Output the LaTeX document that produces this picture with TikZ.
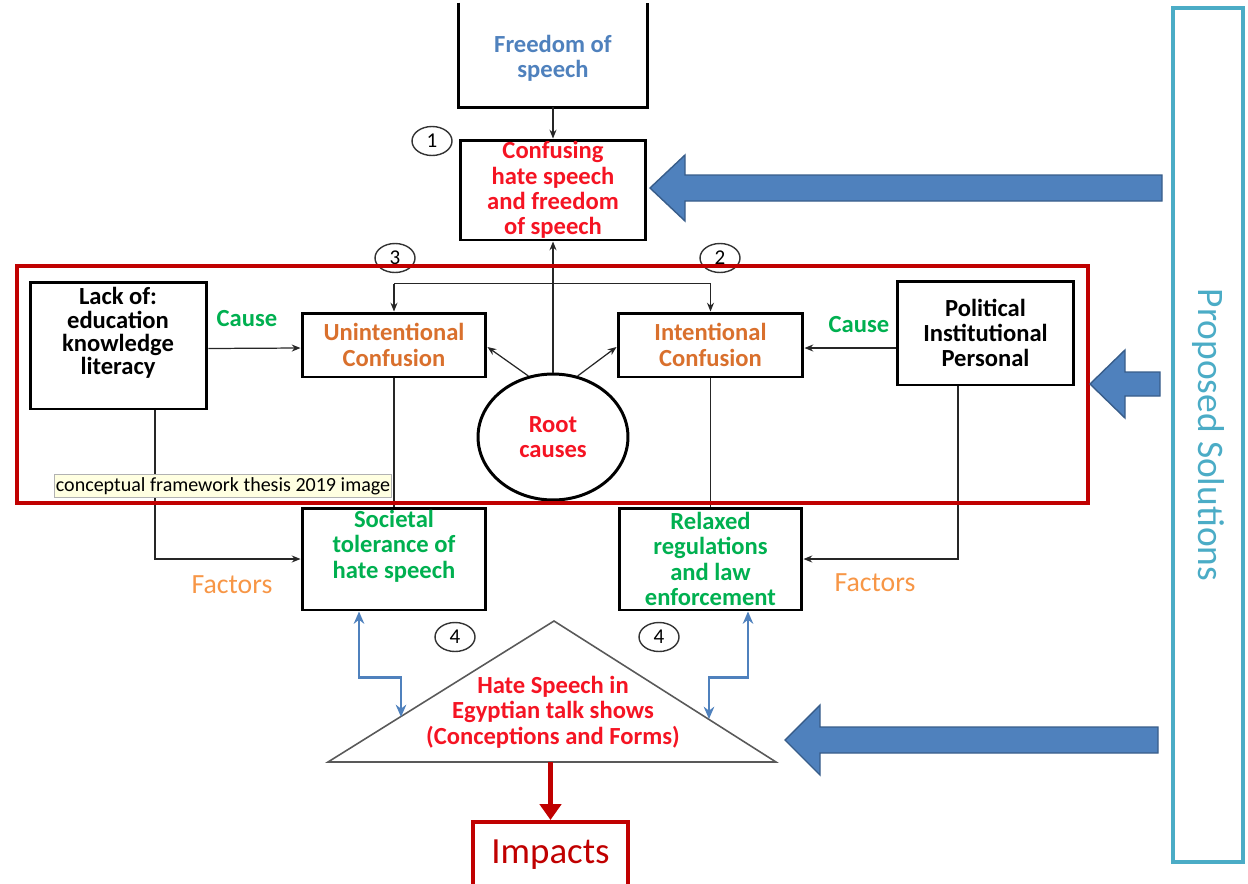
\documentclass[tikz,border=0pt]{standalone}
\usepackage{fontspec}
\setmainfont{Carlito}
\usetikzlibrary{arrows.meta,shapes.geometric,calc}
\definecolor{fsblue}{RGB}{79,129,189}
\definecolor{arrfill}{RGB}{79,129,189}
\definecolor{arrdraw}{RGB}{56,93,138}
\definecolor{txtred}{RGB}{245,20,35}
\definecolor{txtorange}{RGB}{217,112,45}
\definecolor{txtgreen}{RGB}{0,176,80}
\definecolor{factorange}{RGB}{247,150,70}
\definecolor{darkred}{RGB}{192,0,0}
\definecolor{pbblue}{RGB}{75,172,198}
\definecolor{labfill}{RGB}{255,255,225}
\newcommand{\bigarrow}[6]{% tipx tipy basex headhalf shafthalf tailx
  \filldraw[fill=arrfill,draw=arrdraw,line width=0.8pt]
    (#1,#2) -- (#3,#2-#4) -- (#3,#2-#5) -- (#6,#2-#5) -- (#6,#2+#5) -- (#3,#2+#5) -- (#3,#2+#4) -- cycle;}
\begin{document}
\begin{tikzpicture}[x=0.02cm,y=-0.02cm,
  box/.style={draw=black,line width=1.7pt,rectangle,inner sep=0pt,align=center,
    font=\bfseries\fontsize{14}{14.4}\selectfont},
  boxtext/.style={align=center,inner sep=0pt,font=\bfseries\fontsize{14}{14.4}\selectfont},
  num/.style={draw=black!80,ellipse,line width=0.8pt,minimum width=0.8cm,minimum height=0.58cm,
    inner sep=0pt,font=\fontsize{12}{12}\selectfont},
  conn/.style={draw=black!85,line width=0.7pt},
  arr/.style={conn,-{Stealth[length=5pt,width=4pt]}},
  bluearr/.style={draw=fsblue,line width=1.6pt,{Stealth[length=7pt,width=6pt]}-{Stealth[length=7pt,width=6pt]}},
  redarr/.style={draw=darkred,line width=2.4pt,-{Triangle[length=9pt,width=12pt]}},
  lbl/.style={inner sep=0pt,font=\bfseries\fontsize{14}{14.4}\selectfont,text=txtgreen},
  fact/.style={inner sep=0pt,font=\fontsize{15.8}{16}\selectfont,text=factorange}]
\useasboundingbox (0,0) rectangle (1248,883);
\clip (0,0) rectangle (1248,883);

% top boxes
\node[box,draw=none,minimum width=3.72cm,minimum height=2.04cm] (fr) at (553,55) {};
\node[boxtext,text=fsblue] (frtxt) at (553,58) {Freedom of\\speech};
\draw[line width=1.7pt] (fr.north west) -- (fr.south west) -- (fr.south east) -- (fr.north east);
\node[box,minimum width=3.72cm,minimum height=2.0cm,text=txtred] (conf) at (553,190) {Confusing\\hate speech\\and freedom\\of speech};
\node[num] (n1) at (432,141) {1};
\node[num] (n3) at (395,258) {3};
\node[num] (n2) at (720,258) {2};

% middle row
\node[box,minimum width=3.54cm,minimum height=2.54cm] (lack) at (118.5,345.5) {};
\node[align=center,inner sep=0pt,font=\bfseries\fontsize{14}{13.3}\selectfont] (lacktxt) at (118,333) {Lack of:\\education\\knowledge\\literacy};
\node[box,minimum width=3.68cm,minimum height=1.28cm,text=txtorange] (unint) at (394,345) {Unintentional\\Confusion};
\node[box,minimum width=3.7cm,minimum height=1.28cm,text=txtorange] (int) at (710.5,345) {Intentional\\Confusion};
\node[box,minimum width=3.54cm,minimum height=2.08cm] (pol) at (985.5,333) {Political\\Institutional\\Personal};
\node[draw=black,line width=1.7pt,ellipse,minimum width=3.0cm,minimum height=2.52cm,inner sep=0pt,align=center,
  font=\bfseries\fontsize{14}{14.4}\selectfont,text=txtred] (root) at (553,437) {Root\\causes};
\node[lbl] (cause1) at (247,319) {Cause};
\node[lbl] (cause2) at (859,325) {Cause};

% lower boxes
\node[box,minimum width=3.68cm,minimum height=2.04cm] (soc) at (394,559) {};
\node[boxtext,text=txtgreen] (soctxt) at (394,546) {Societal\\tolerance of\\hate speech};
\node[box,minimum width=3.66cm,minimum height=2.04cm,text=txtgreen] (rel) at (710.5,559) {Relaxed\\regulations\\and law\\enforcement};
\node[fact] (f1) at (232,585) {Factors};
\node[fact] (f2) at (875,583) {Factors};

% connectors
\draw[arr] (fr.south) -- (conf.north);
\draw[arr] (root.north) -- (conf.south);
\coordinate (jl) at ($(unint.north)+(0,-28)$);
\coordinate (jr) at ($(int.north)+(0,-28)$);
\draw[conn] (jl) -- (jr);
\draw[arr] (jl) -- (unint.north);
\draw[arr] (jr) -- (int.north);
\draw[arr] (root.112) -- ([yshift=-0.04cm]unint.east);
\draw[arr] (root.68) -- ([yshift=-0.04cm]int.west);
\draw[arr] ([yshift=-0.06cm]lack.east) -- ([yshift=-0.06cm]unint.west);
\draw[arr] ([yshift=-0.06cm]pol.west |- int.east) -- ([yshift=-0.06cm]int.east);
\draw[conn] (unint.south) -- (soc.north);
\draw[conn] (int.south) -- (rel.north);
\draw[arr] ([xshift=0.73cm]lack.south) |- (soc.west);
\draw[arr] ([xshift=-0.55cm]pol.south) |- (rel.east);

% label box
\node[draw=gray!60,fill=labfill,line width=0.5pt,minimum width=6.74cm,minimum height=0.46cm,inner sep=0pt,
  font=\fontsize{11.4}{12}\selectfont] (note) at (223,486) {conceptual framework thesis 2019 image};

% red frame
\draw[draw=darkred,line width=2.3pt] (17,266) rectangle (1088,503);

% triangle
\coordinate (ta) at (554,621);
\coordinate (tbr) at (776,762);
\coordinate (tbl) at (328,762);
\draw[draw=black!65,line width=0.9pt] (ta) -- (tbr) -- (tbl) -- cycle;
\node[boxtext,text=txtred] (hs) at (553,712) {Hate Speech in\\Egyptian talk shows\\(Conceptions and Forms)};
\node[num] (n4a) at (455,637) {4};
\node[num] (n4b) at (659,637) {4};
\coordinate (tl) at (401,717);
\coordinate (tr) at (709,719);
\draw[bluearr] ([xshift=-0.7cm]soc.south) -- ++(0,66) -| (tl);
\draw[bluearr] ([xshift=0.75cm]rel.south) -- ++(0,66) -| (tr);

% impacts
\node[draw=darkred,line width=2.3pt,minimum width=3.1cm,minimum height=1.3cm,inner sep=0pt,
  font=\fontsize{21}{22}\selectfont,text=darkred] (imp) at (550.5,854.5) {Impacts};
\coordinate (tb) at (550.5,762);
\draw[redarr] (tb) -- (imp.north);

% big arrows
\bigarrow{650}{188}{685}{33}{13}{1162}
\bigarrow{1090}{384}{1125}{34}{12}{1160}
\bigarrow{785}{740}{820}{35}{13}{1158}

% proposed solutions
\node[draw=pbblue,line width=2.2pt,rotate=-90,minimum width=17.08cm,minimum height=1.4cm,inner sep=0pt,
  font=\fontsize{21.3}{22}\selectfont,text=pbblue] (ps) at (1208,435) {Proposed Solutions};
\end{tikzpicture}
\end{document}
